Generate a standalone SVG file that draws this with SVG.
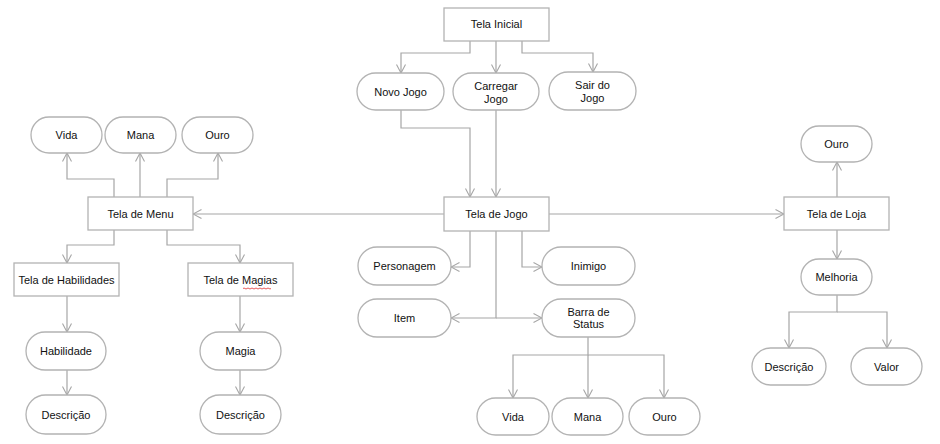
<svg xmlns="http://www.w3.org/2000/svg" width="940" height="444" viewBox="0 0 940 444">
<defs>
<style>
.n rect{fill:#fff;stroke:#b3b3b3;stroke-width:1.3}
.n text{font-family:"Liberation Sans",Arial,sans-serif;font-size:11px;fill:#111;text-anchor:middle}
#c path{fill:none;stroke:#a6a6a6;stroke-width:1.2;marker-end:url(#a)}
#c path.p{marker-end:none}
</style>
<marker id="a" viewBox="0 0 10 10" refX="9.5" refY="5" markerWidth="10" markerHeight="10" markerUnits="userSpaceOnUse" orient="auto">
<path d="M1,0.5 L9.5,5 L1,9.5" fill="none" stroke="#a6a6a6" stroke-width="1.1"/>
</marker>
</defs>
<rect width="940" height="444" fill="#fff"/>
<g id="c">
<path d="M470,41 V53 H401 V73"/>
<path d="M496,41 V73"/>
<path d="M522,41 V53 H593 V72"/>
<path d="M401,110 V128 H470 V197"/>
<path d="M496,110 V197"/>
<path d="M444,214 H193"/>
<path d="M549,214 H784"/>
<path d="M114,197 V179 H67 V153"/>
<path d="M140,197 V153"/>
<path d="M167,197 V179 H218 V153"/>
<path d="M114,230 V245 H67 V263"/>
<path d="M167,230 V245 H240 V263"/>
<path d="M67,296 V332"/>
<path d="M67,370 V395"/>
<path d="M240,296 V332"/>
<path d="M240,370 V395"/>
<path d="M470,231 V267 H451"/>
<path d="M522,231 V267 H542"/>
<path d="M496,231 V318 H451"/>
<path d="M496,318 H542"/>
<path d="M588,337 V355 H513 V398"/>
<path d="M588,355 V398"/>
<path d="M588,355 H664 V398"/>
<path d="M837,197 V162"/>
<path d="M837,230 V259"/>
<path d="M837,295 V312 H789 V348"/>
<path d="M837,312 H887 V348"/>
</g>
<g id="telaInicial" class="n"><rect x="444" y="8" width="105" height="33"/><text x="496.5" y="28">Tela Inicial</text></g>
<g id="novoJogo" class="n"><rect x="357" y="73" width="87" height="37" rx="18.5"/><text x="400.5" y="95.5">Novo Jogo</text></g>
<g id="carregarJogo" class="n"><rect x="453" y="73" width="86" height="37" rx="18.5"/><text x="496" y="90">Carregar</text><text x="496" y="103">Jogo</text></g>
<g id="sairJogo" class="n"><rect x="549" y="72" width="87" height="38" rx="19"/><text x="592.5" y="89">Sair do</text><text x="592.5" y="102">Jogo</text></g>
<g id="telaJogo" class="n"><rect x="444" y="197" width="105" height="34"/><text x="496.5" y="218">Tela de Jogo</text></g>
<g id="telaMenu" class="n"><rect x="88" y="197" width="105" height="33"/><text x="140.5" y="217.5">Tela de Menu</text></g>
<g id="telaLoja" class="n"><rect x="784" y="197" width="105" height="33"/><text x="836.5" y="217.5">Tela de Loja</text></g>
<g id="menuVida" class="n"><rect x="31" y="117" width="71" height="36" rx="18"/><text x="66.5" y="139">Vida</text></g>
<g id="menuMana" class="n"><rect x="105" y="117" width="71" height="36" rx="18"/><text x="140.5" y="139">Mana</text></g>
<g id="menuOuro" class="n"><rect x="182" y="117" width="71" height="36" rx="18"/><text x="217.5" y="139">Ouro</text></g>
<g id="telaHabilidades" class="n"><rect x="14" y="263" width="105" height="33"/><text x="66.5" y="283.5">Tela de Habilidades</text></g>
<g id="telaMagias" class="n"><rect x="188" y="263" width="105" height="33"/><text x="240.5" y="283.5">Tela de Magias</text><path d="M243,288.5 q1,-1 2,0 t2,0 t2,0 t2,0 t2,0 t2,0 t2,0 t2,0 t2,0 t2,0 t2,0 t2,0 t2,0 t2,0" fill="none" stroke="#e03030" stroke-width="0.8"/></g>
<g id="habilidade" class="n"><rect x="26" y="332" width="80" height="38" rx="19"/><text x="66" y="355">Habilidade</text></g>
<g id="descHab" class="n"><rect x="26" y="395" width="80" height="39" rx="19.5"/><text x="66" y="418.5">Descrição</text></g>
<g id="magia" class="n"><rect x="200" y="332" width="81" height="38" rx="19"/><text x="240.5" y="355">Magia</text></g>
<g id="descMagia" class="n"><rect x="200" y="395" width="81" height="39" rx="19.5"/><text x="240.5" y="418.5">Descrição</text></g>
<g id="personagem" class="n"><rect x="358" y="247" width="93" height="38" rx="19"/><text x="404.5" y="270">Personagem</text></g>
<g id="inimigo" class="n"><rect x="542" y="247" width="93" height="38" rx="19"/><text x="588.5" y="270">Inimigo</text></g>
<g id="item" class="n"><rect x="358" y="299" width="93" height="38" rx="19"/><text x="404.5" y="322">Item</text></g>
<g id="barraStatus" class="n"><rect x="542" y="299" width="93" height="38" rx="19"/><text x="588.5" y="316">Barra de</text><text x="588.5" y="328">Status</text></g>
<g id="barraVida" class="n"><rect x="477" y="398" width="72" height="37" rx="18.5"/><text x="513" y="420.5">Vida</text></g>
<g id="barraMana" class="n"><rect x="552" y="398" width="71" height="37" rx="18.5"/><text x="587.5" y="420.5">Mana</text></g>
<g id="barraOuro" class="n"><rect x="629" y="398" width="71" height="37" rx="18.5"/><text x="664.5" y="420.5">Ouro</text></g>
<g id="lojaOuro" class="n"><rect x="801" y="126" width="71" height="36" rx="18"/><text x="836.5" y="148">Ouro</text></g>
<g id="melhoria" class="n"><rect x="801" y="259" width="71" height="36" rx="18"/><text x="836.5" y="281">Melhoria</text></g>
<g id="descLoja" class="n"><rect x="752" y="348" width="74" height="37" rx="18.5"/><text x="789" y="370.5">Descrição</text></g>
<g id="valor" class="n"><rect x="851" y="348" width="71" height="37" rx="18.5"/><text x="886.5" y="370.5">Valor</text></g>
</svg>
